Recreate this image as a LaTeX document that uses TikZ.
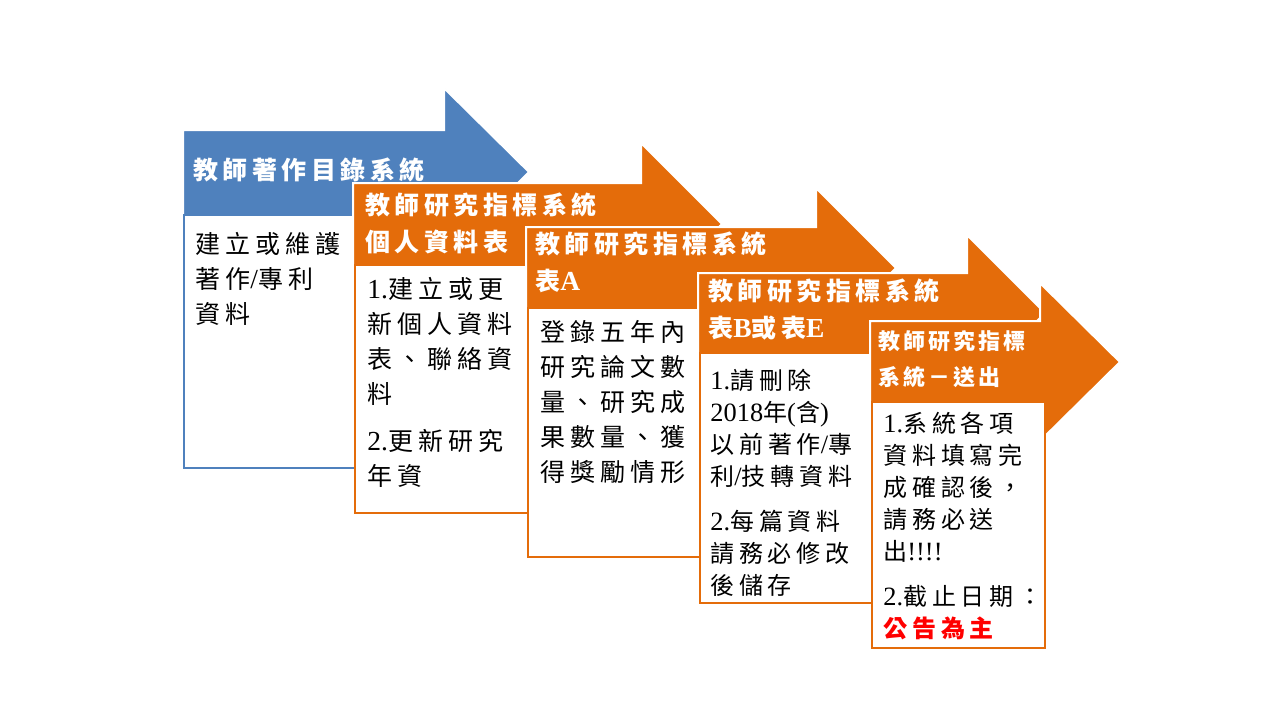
\documentclass[tikz,border=0pt]{standalone}
\usepackage{fontspec}
\setmainfont{Liberation Serif}
\newfontfamily\cjk[LetterSpace=20]{Noto Sans CJK TC}
\newfontfamily\cjkh[LetterSpace=18]{Noto Sans CJK TC}
\newfontfamily\cjkhs[LetterSpace=14]{Noto Sans CJK TC}
\newfontfamily\latf[Scale=1.1]{Liberation Serif}
\newcommand\en[1]{{\latf #1}}
\definecolor{blu}{HTML}{4F81BD}
\definecolor{org}{HTML}{E46C0A}
\definecolor{redt}{HTML}{FF0000}
\tikzset{
  arrowshape/.style={fill=#1, draw=white, line width=1pt, line join=miter},
  bodybox/.style={fill=white, draw=#1, line width=1.2pt},
  hdr/.style={anchor=north west, inner sep=0pt, align=left, text=white,
    font=\cjkh\bfseries\fontsize{12.5}{18.5}\selectfont},
  hdrs/.style={anchor=north west, inner sep=0pt, align=left, text=white,
    font=\cjkhs\bfseries\fontsize{11}{18}\selectfont},
  bdy/.style={anchor=north west, inner sep=0pt, align=left, text=black,
    font=\cjk\fontsize{12.5}{17.5}\selectfont},
  bdys/.style={anchor=north west, inner sep=0pt, align=left, text=black,
    font=\cjk\fontsize{12}{16}\selectfont},
}
\begin{document}
\begin{tikzpicture}[x=0.5pt,y=-0.5pt]
\fill[white] (0,0) rectangle (1280,720);
\useasboundingbox (0,0) rectangle (1280,720);

% unit 1
\path[arrowshape=blu] (183,130) -- (444,130) -- (444,88) -- (529,172) -- (444,257) -- (444,215) -- (183,215) -- cycle;
\path[bodybox=blu] (184,215) rectangle (358,468);
\node[hdr] (h1) at (193,157) {教師著作目錄系統};
\node[bdy] (b1) at (195,232) {建立或維護\\著作\en{/}專利\\資料};

% unit 2
\path[arrowshape=org] (353,183) -- (641,183) -- (641,143) -- (722,224) -- (641,305) -- (641,265) -- (353,265) -- cycle;
\path[bodybox=org] (355,265) rectangle (530,513);
\node[hdr] (h2) at (365,192) {教師研究指標系統\\個人資料表};
\node[bdy] (b2) at (367,277) {\en{1.}建立或更\\新個人資料\\表、聯絡資\\料\\[6pt]\en{2.}更新研究\\年資};

% unit 3
\path[arrowshape=org] (526,227) -- (816,227) -- (816,188) -- (896,268) -- (816,348) -- (816,308) -- (526,308) -- cycle;
\path[bodybox=org] (528,308) rectangle (702,557);
\node[hdr] (h3) at (535,231) {教師研究指標系統\\表\en{\bfseries A}};
\node[bdy] (b3) at (540,320) {登錄五年內\\研究論文數\\量、研究成\\果數量、獲\\得獎勵情形};

% unit 4
\path[arrowshape=org] (698,273) -- (967,273) -- (967,235) -- (1045,313) -- (967,391) -- (967,353) -- (698,353) -- cycle;
\path[bodybox=org] (700,353) rectangle (873,603);
\node[hdr] (h4) at (708,278) {教師研究指標系統\\表\en{\bfseries B}或表\en{\bfseries E}};
\node[bdys] (b4) at (710,369) {\en{1.}請刪除\\\en{2018}年\en{(}含\en{)}\\以前著作\en{/}專\\利\en{/}技轉資料\\[6.5pt]\en{2.}每篇資料\\請務必修改\\後儲存};

% unit 5
\path[arrowshape=org] (870,321) -- (1040,321) -- (1040,283) -- (1120,362) -- (1040,441) -- (1040,402) -- (870,402) -- cycle;
\path[bodybox=org] (872,402) rectangle (1045,648);
\node[hdrs] (h5) at (878,330) {教師研究指標\\系統－送出};
\node[bdys] (b5) at (883,412) {\en{1.}系統各項\\資料填寫完\\成確認後，\\請務必送\\出\en{!!!!}\\[6.5pt]\en{2.}截止日期：\\{\color{redt}\bfseries 公告為主}};
\end{tikzpicture}
\end{document}
